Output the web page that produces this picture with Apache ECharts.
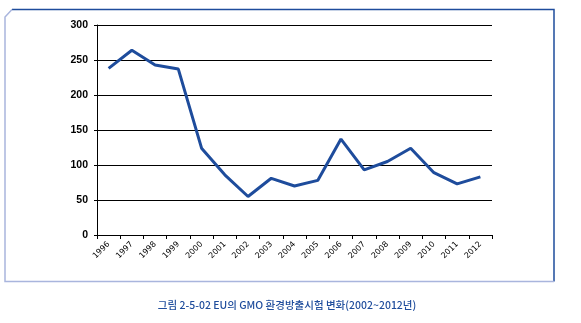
<!DOCTYPE html>
<html>
<head>
<meta charset="utf-8">
<script src="https://cdn.jsdelivr.net/npm/echarts@6/dist/echarts.min.js"></script>
<style>
  html, body { margin: 0; padding: 0; background: #fff; }
  #chart { width: 581px; height: 323px; }
</style>
</head>
<body>
<div id="chart"></div>
<script>
// Years on the category axis
const years = ['1996', '1997', '1998', '1999', '2000', '2001', '2002', '2003', '2004',
               '2005', '2006', '2007', '2008', '2009', '2010', '2011', '2012'];
// Number of GMO environmental release trials in the EU
const trials = [238, 264, 243, 237, 124, 86, 55, 81, 70, 78, 137, 93, 105, 124, 89, 73, 83];
// Value axis ticks
const yTicks = [0, 50, 100, 150, 200, 250, 300];

const caption = '그림 2-5-02 EU의 GMO 환경방출시험 변화(2002~2012년)';
const dark = '#1E4C9C';
const light = '#A9B5DD';

const chart = echarts.init(document.getElementById('chart'));
chart.setOption({
  animation: false,
  grid: { left: 97, right: 89, top: 25, bottom: 88 },
  xAxis: {
    type: 'category',
    data: years,
    boundaryGap: true,
    axisLine: { lineStyle: { color: '#000', width: 1 } },
    axisTick: { show: true, length: 4, lineStyle: { color: '#000' } },
    axisLabel: {
      rotate: 45, fontSize: 8, color: '#000', margin: 8,
      fontFamily: 'DejaVu Sans'
    },
    splitLine: { show: false }
  },
  yAxis: {
    type: 'value',
    min: yTicks[0],
    max: yTicks[yTicks.length - 1],
    interval: 50,
    axisLine: { show: true, lineStyle: { color: '#000', width: 1 } },
    axisTick: { show: true, length: 3, lineStyle: { color: '#000' } },
    axisLabel: {
      fontSize: 10.5, color: '#000', margin: 9, fontWeight: 'bold',
      fontFamily: 'Liberation Sans'
    },
    splitLine: { show: true, lineStyle: { color: '#000', width: 1 } }
  },
  series: [{
    type: 'line',
    data: trials,
    symbol: 'none',
    lineStyle: { color: dark, width: 3 },
    z: 5
  }],
  graphic: [
    {
      type: 'polyline',
      shape: { points: [[12, 9.5], [554, 9.5], [554, 281.5]] },
      style: { stroke: dark, lineWidth: 1.5, fill: null }
    },
    {
      type: 'polyline',
      shape: { points: [[12, 9.5], [5, 17], [5, 281.5], [554, 281.5]] },
      style: { stroke: light, lineWidth: 1.5, fill: null }
    },
    {
      type: 'text',
      x: 287,
      y: 305,
      style: {
        text: caption,
        fill: dark,
        fontSize: 10.5,
        fontWeight: 500,
        align: 'center',
        verticalAlign: 'middle',
        fontFamily: 'Noto Sans CJK KR'
      }
    }
  ]
});
</script>
</body>
</html>
